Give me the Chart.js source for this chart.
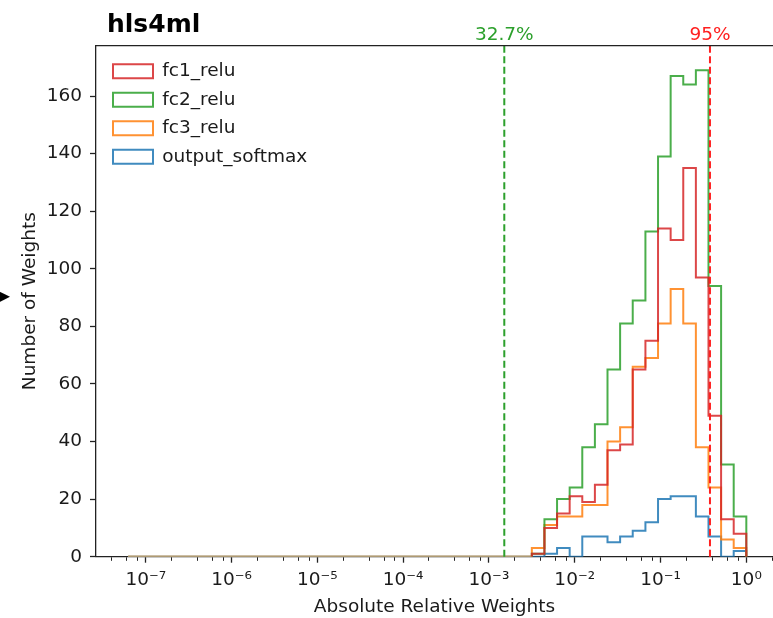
<!DOCTYPE html>
<html>
<head>
<meta charset="utf-8">
<script src="https://cdn.jsdelivr.net/npm/chart.js@4/dist/chart.umd.min.js"></script>
<style>
  html, body { margin: 0; padding: 0; background: #fff; overflow: hidden; }
  #histChart { display: block; }
</style>
</head>
<body>
<canvas id="histChart" width="773" height="618"></canvas>
<script>
// hls4ml weight profile - step histograms on a log x axis

const seriesNames = ["fc1_relu", "fc2_relu", "fc3_relu", "output_softmax"];
const seriesColors = ["rgba(214,39,40,0.85)", "rgba(44,160,44,0.85)", "rgba(255,127,14,0.85)", "rgba(31,119,180,0.85)"];
const baselineColor = "rgba(175,155,115,0.9)"; // the overlapping zero runs look tan

// log10 of the first histogram edge (bins below 10^-2.5 are all empty)
const emptyStartExp = -7.206;
// log10 of the bin edges of the occupied part
const binEdgeExps = [-2.5, -2.353, -2.206, -2.059, -1.912, -1.765, -1.618, -1.471, -1.324,
  -1.176, -1.029, -0.882, -0.735, -0.588, -0.441, -0.294, -0.147, 0];

// counts per bin
const fc1Counts = [1, 10, 15, 21, 19, 25, 37, 39, 65, 75, 114, 110, 135, 97, 49, 13, 8];
const fc2Counts = [1, 13, 20, 24, 38, 46, 65, 81, 89, 113, 139, 167, 164, 169, 94, 32, 14];
const fc3Counts = [3, 11, 14, 14, 18, 18, 40, 45, 66, 69, 81, 93, 81, 38, 24, 6, 3];
const softmaxCounts = [0, 1, 3, 0, 7, 7, 5, 7, 9, 12, 20, 21, 21, 14, 7, 0, 2];

// axes
const xMinExp = -7.58;
const xMaxExp = 0.311;
const xMajorExps = [-8, -7, -6, -5, -4, -3, -2, -1, 0];
const xMinorSubs = [2, 4, 6, 8];
const yMax = 177.5;
const yTicks = [0, 20, 40, 60, 80, 100, 120, 140, 160];

// percentile markers
const thresholdValues = [0.00151, 0.377];
const thresholdLabels = ["32.7%", "95%"];
const thresholdColors = ["#2ca02c", "#ff2020"];

const fontFamily = "'DejaVu Sans', sans-serif";
const textSize = 18.5;

const supChars = { "0": "⁰", "1": "¹", "2": "²", "3": "³", "4": "⁴", "5": "⁵", "6": "⁶", "7": "⁷", "8": "⁸", "9": "⁹", "-": "⁻" };
function powerLabel(exp) {
  return "10" + String(exp).split("").map((c) => supChars[c]).join("");
}

// points sit on the right edge of each bin, drawn with stepped "after"
function stepPoints(counts) {
  const pts = [{ x: 10 ** emptyStartExp, y: 0 }, { x: 10 ** binEdgeExps[0], y: 0 }];
  counts.forEach((c, i) => pts.push({ x: 10 ** binEdgeExps[i + 1], y: c }));
  pts.push({ x: 10 ** binEdgeExps[binEdgeExps.length - 1], y: 0 });
  return pts;
}

const allCounts = [fc1Counts, fc2Counts, fc3Counts, softmaxCounts];
const datasets = allCounts.map((counts, i) => ({
  label: seriesNames[i],
  data: stepPoints(counts),
  borderColor: seriesColors[i],
  backgroundColor: "transparent",
  borderWidth: 2,
  stepped: "after",
  pointRadius: 0,
  fill: false,
  segment: {
    borderColor: (ctx) => (ctx.p1DataIndex === 1 ? baselineColor : undefined),
  },
}));

const extrasPlugin = {
  id: "extras",
  afterLayout(chart) {
    // matplotlib puts the legend a bit inside the axes
    chart.legend.left = 103;
    chart.legend.top = 52;
  },
  afterDatasetsDraw(chart) {
    const { ctx, chartArea } = chart;
    const xScale = chart.scales.x;
    ctx.save();
    thresholdValues.forEach((v, i) => {
      const px = xScale.getPixelForValue(v);
      ctx.strokeStyle = thresholdColors[i];
      ctx.lineWidth = 2;
      ctx.setLineDash([7, 3.5]);
      ctx.beginPath();
      ctx.moveTo(px, chartArea.top);
      ctx.lineTo(px, chartArea.bottom);
      ctx.stroke();
    });
    ctx.restore();
  },
  afterDraw(chart) {
    const { ctx, chartArea } = chart;
    const xScale = chart.scales.x;
    ctx.save();
    // top spine
    ctx.strokeStyle = "#222";
    ctx.lineWidth = 1.3;
    ctx.beginPath();
    ctx.moveTo(chartArea.left, chartArea.top);
    ctx.lineTo(chartArea.right, chartArea.top);
    ctx.stroke();

    ctx.font = textSize + "px " + fontFamily;
    ctx.textAlign = "center";
    ctx.textBaseline = "alphabetic";
    thresholdValues.forEach((v, i) => {
      ctx.fillStyle = thresholdColors[i];
      ctx.fillText(thresholdLabels[i], xScale.getPixelForValue(v), 40);
    });

    ctx.fillStyle = "#000";
    ctx.textAlign = "left";
    ctx.font = "bold 25px " + fontFamily;
    ctx.fillText("hls4ml", 107, 32);

    // clipped marker at the left edge of the figure
    ctx.font = "16px " + fontFamily;
    ctx.textAlign = "right";
    ctx.textBaseline = "middle";
    ctx.fillText("▶", 10, 297);
    ctx.restore();
  },
};

const chartCanvas = document.getElementById("histChart");
new Chart(chartCanvas.getContext("2d"), {
  type: "line",
  data: { datasets: datasets },
  options: {
    responsive: false,
    animation: false,
    devicePixelRatio: 1,
    layout: { padding: { top: 45.7, left: 0, right: 0, bottom: 0 } },
    plugins: {
      title: { display: false },
      tooltip: { enabled: false },
      legend: {
        position: "chartArea",
        align: "start",
        labels: {
          boxWidth: 40,
          boxHeight: 14,
          padding: 10,
          color: "#1a1a1a",
          font: { family: fontFamily, size: textSize },
        },
      },
    },
    scales: {
      x: {
        type: "logarithmic",
        min: 10 ** xMinExp,
        max: 10 ** xMaxExp,
        afterFit: (scale) => {
          scale.height = 61.3;
          scale.paddingLeft = 0;
          scale.paddingRight = 0;
        },
        afterBuildTicks: (scale) => {
          const ticks = [];
          xMajorExps.forEach((e) => {
            ticks.push({ value: 10 ** e, isMinor: false });
            xMinorSubs.forEach((s) => ticks.push({ value: s * 10 ** e, isMinor: true }));
          });
          scale.ticks = ticks.filter((t) => t.value >= scale.min && t.value <= scale.max);
        },
        ticks: {
          autoSkip: false,
          maxRotation: 0,
          padding: 6,
          color: "#1a1a1a",
          font: { family: fontFamily, size: textSize },
          callback: (value, index, ticks) =>
            ticks[index].isMinor ? "" : powerLabel(Math.round(Math.log10(value))),
        },
        grid: {
          drawOnChartArea: false,
          tickLength: 6,
          tickColor: "#222",
          tickWidth: (ctx) => (ctx.tick && ctx.tick.isMinor ? 1 : 1.3),
          tickBorderDash: (ctx) => (ctx.tick && ctx.tick.isMinor ? [3.5, 20] : []),
        },
        border: { color: "#222", width: 1.3 },
        title: {
          display: true,
          text: "Absolute Relative Weights",
          color: "#1a1a1a",
          font: { family: fontFamily, size: textSize },
          padding: { top: 0, bottom: 0 },
        },
      },
      y: {
        type: "linear",
        min: 0,
        max: yMax,
        afterFit: (scale) => {
          scale.width = 96;
          scale.paddingTop = 0;
          scale.paddingBottom = 0;
        },
        afterBuildTicks: (scale) => {
          scale.ticks = yTicks.map((v) => ({ value: v }));
        },
        ticks: {
          padding: 8,
          color: "#1a1a1a",
          font: { family: fontFamily, size: textSize },
        },
        grid: {
          drawOnChartArea: false,
          tickLength: 6,
          tickColor: "#222",
          tickWidth: 1.3,
        },
        border: { color: "#222", width: 1.3 },
        title: {
          display: true,
          text: "Number of Weights",
          color: "#1a1a1a",
          font: { family: fontFamily, size: textSize },
          padding: { top: 18.6, bottom: 0 },
        },
      },
    },
  },
  plugins: [extrasPlugin],
});
</script>
</body>
</html>
